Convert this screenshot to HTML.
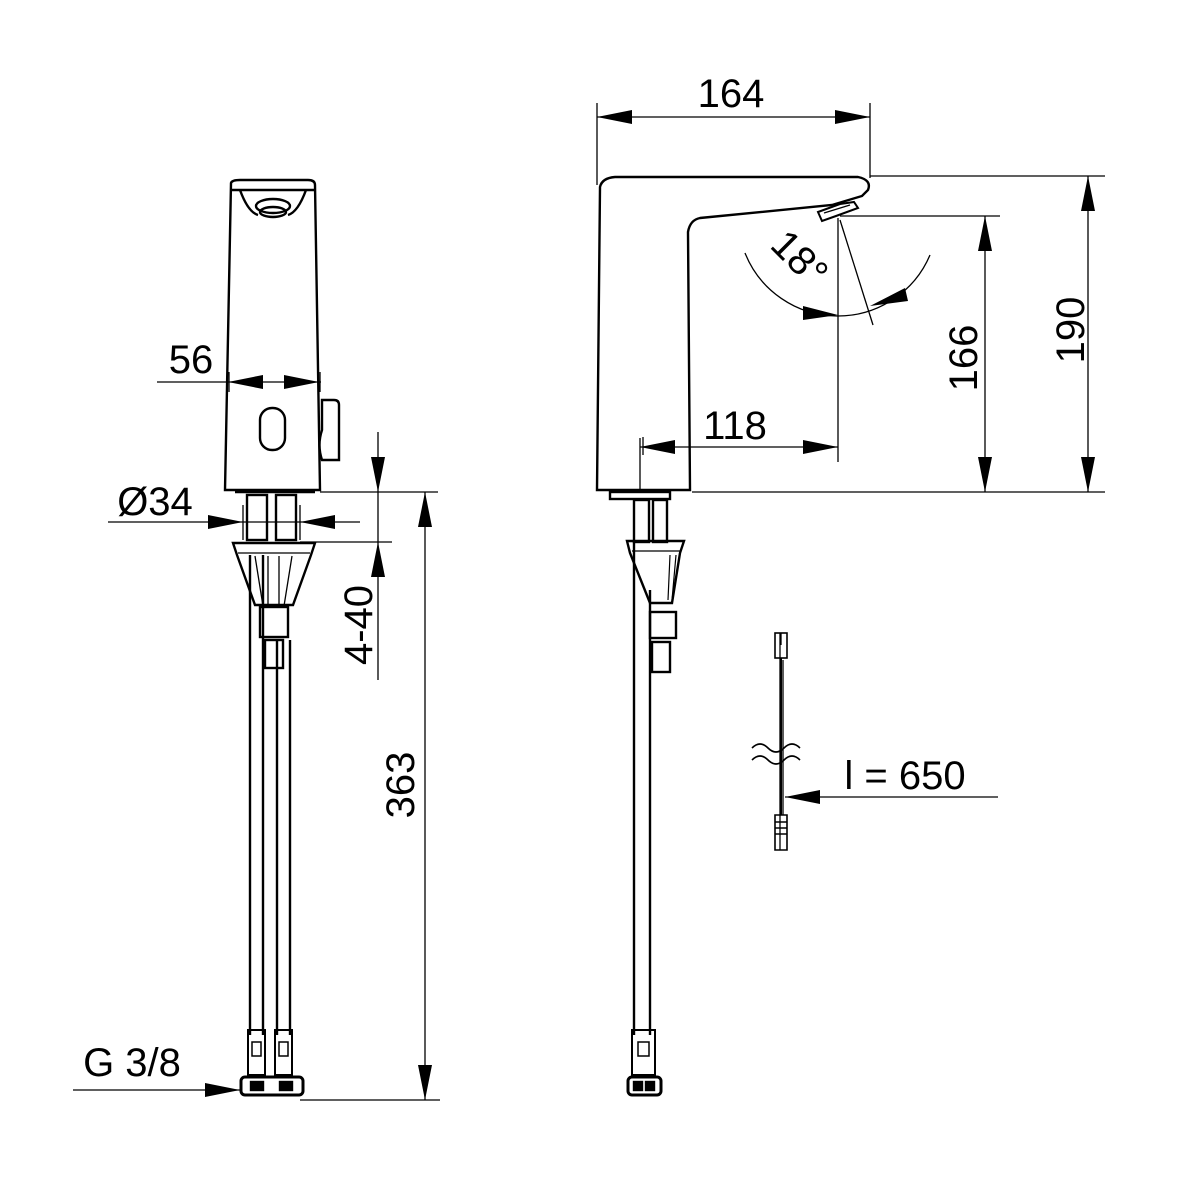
<!DOCTYPE html>
<html><head><meta charset="utf-8"><style>html,body{margin:0;padding:0;background:#fff}svg{display:block}</style></head>
<body>
<svg width="1200" height="1200" viewBox="0 0 1200 1200" xmlns="http://www.w3.org/2000/svg" font-family="Liberation Sans, sans-serif" font-size="40" fill="none" stroke="#000">
<g stroke-width="1.3">
<line x1="157" y1="382" x2="321" y2="382"/>
<path d="M228,382l35,-7v14z M319,382l-35,-7v14z" fill="#000" stroke="none"/>
<line x1="108" y1="522" x2="360" y2="522"/>
<path d="M243,522l-35,-7v14z M300,522l35,-7v14z" fill="#000" stroke="none"/>
<line x1="243" y1="505" x2="243" y2="540"/><line x1="300" y1="505" x2="300" y2="540"/>
<line x1="320" y1="492" x2="438" y2="492"/>
<line x1="300" y1="542" x2="392" y2="542"/>
<line x1="378" y1="432" x2="378" y2="680"/>
<path d="M378,492l-7,-35h14z M378,542l-7,35h14z" fill="#000" stroke="none"/>
<line x1="425" y1="492" x2="425" y2="1100"/>
<path d="M425,492l-7,35h14z M425,1100l-7,-35h14z" fill="#000" stroke="none"/>
<line x1="300" y1="1100" x2="440" y2="1100"/>
<line x1="73" y1="1090" x2="240" y2="1090"/>
<path d="M240,1090l-35,-7v14z" fill="#000" stroke="none"/>
</g>
<g fill="#000" stroke="none">
<text x="191" y="373" text-anchor="middle">56</text>
<text x="155" y="515" text-anchor="middle">Ø34</text>
<text transform="translate(372,625) rotate(-90)" text-anchor="middle">4-40</text>
<text transform="translate(414,785) rotate(-90)" text-anchor="middle">363</text>
<text x="132" y="1076" text-anchor="middle">G 3/8</text>
</g>
<g stroke-width="2.4">
<path d="M231,183 Q232,180 240,180 L308,180 Q315,180 315,185 L320,490 L225,490 Z"/>
<line x1="232" y1="190" x2="314" y2="190"/>
<path d="M240,190 Q248,212 258,215 M306,190 Q298,212 288,215"/>
<ellipse cx="273" cy="206" rx="17" ry="7"/>
<ellipse cx="273" cy="212" rx="13" ry="5"/>
<rect x="260" y="408" width="25" height="42" rx="12"/>
<path d="M322,400 h12 q5,0 5,5 v55 h-17 q-5,-15 0,-30z"/>
<line x1="229" y1="372" x2="229" y2="392" stroke-width="1.3"/>
<line x1="320" y1="372" x2="320" y2="392" stroke-width="1.3"/>
<path d="M235,492 h80"/>
<rect x="247" y="495" width="20" height="45"/>
<rect x="276" y="495" width="20" height="45"/>
<path d="M233,543 h82 l-4,12 l-18,50 h-38 l-18,-50z"/>
<line x1="238" y1="553" x2="310" y2="553" stroke-width="1.3"/>
<path d="M255,556 l8,50 M292,556 l-8,50 M268,556 v50 M279,556 v50" stroke-width="1.3"/>
<rect x="260" y="607" width="28" height="30"/>
<rect x="265" y="640" width="18" height="28"/>
<line x1="250" y1="555" x2="250" y2="1035"/>
<line x1="263" y1="555" x2="263" y2="1035"/>
<line x1="277" y1="640" x2="277" y2="1035"/>
<line x1="290" y1="640" x2="290" y2="1035"/>
<rect x="248" y="1030" width="17" height="45" stroke-width="2"/>
<rect x="275" y="1030" width="17" height="45" stroke-width="2"/>
<rect x="252" y="1042" width="9" height="14" stroke-width="1.5"/>
<rect x="279" y="1042" width="9" height="14" stroke-width="1.5"/>
<rect x="241" y="1077" width="62" height="18" rx="4" stroke-width="3"/>
<rect x="251" y="1082" width="12" height="8" fill="#000"/>
<rect x="280" y="1082" width="12" height="8" fill="#000"/>
</g>
<g stroke-width="1.3">
<line x1="597" y1="103" x2="597" y2="185"/>
<line x1="870" y1="103" x2="870" y2="178"/>
<line x1="597" y1="117" x2="870" y2="117"/>
<path d="M597,117l35,-7v14z M870,117l-35,-7v14z" fill="#000" stroke="none"/>
<line x1="870" y1="176" x2="1105" y2="176"/>
<line x1="840" y1="216" x2="1000" y2="216"/>
<line x1="692" y1="492" x2="1105" y2="492"/>
<line x1="1088" y1="176" x2="1088" y2="492"/>
<path d="M1088,176l-7,35h14z M1088,492l-7,-35h14z" fill="#000" stroke="none"/>
<line x1="985" y1="216" x2="985" y2="492"/>
<path d="M985,216l-7,35h14z M985,492l-7,-35h14z" fill="#000" stroke="none"/>
<line x1="838" y1="218" x2="838" y2="462"/>
<line x1="640" y1="438" x2="640" y2="492"/>
<line x1="640" y1="447" x2="838" y2="447"/>
<path d="M640,447l35,-7v14z M838,447l-35,-7v14z" fill="#000" stroke="none"/>
<path d="M745,253 A100,100 0 0 0 930,255"/>
<line x1="840" y1="220" x2="873" y2="325"/>
<path d="M838,315l-35,-9v14z M870,306l35,-18l3,13z" fill="#000" stroke="none"/>
<line x1="780" y1="633" x2="780" y2="850"/>
<line x1="783" y1="660" x2="783" y2="815"/>
<path d="M752,748 q8,-8 16,0 q8,8 16,0 q8,-8 16,0 M752,760 q8,-8 16,0 q8,8 16,0 q8,-8 16,0" stroke-width="1.6"/>
<line x1="785" y1="797" x2="998" y2="797"/>
<path d="M785,797l35,-7v14z" fill="#000" stroke="none"/>
</g>
<g fill="#000" stroke="none">
<text x="731" y="107" text-anchor="middle">164</text>
<text transform="translate(977,358) rotate(-90)" text-anchor="middle">166</text>
<text transform="translate(1084,330) rotate(-90)" text-anchor="middle">190</text>
<text x="735" y="439" text-anchor="middle">118</text>
<text transform="translate(790,268) rotate(45)" text-anchor="middle">18°</text>
<text x="905" y="789" text-anchor="middle">l = 650</text>
</g>
<g stroke-width="2.4">
<path d="M597,490 L600,187 Q602,178 615,177 L858,177 Q872,180 868,190 L862,196 L832,205 L700,218 Q690,220 688,232 L690,490 Z"/>
<path d="M818,212 l22,-8 l14,-2 l4,6 l-22,8 l-14,5z" stroke-width="2"/>
<line x1="824" y1="213" x2="850" y2="205" stroke-width="1.3"/>
<line x1="643" y1="437" x2="643" y2="455" stroke-width="1.3"/>
<rect x="610" y="492" width="60" height="7"/>
<rect x="634" y="500" width="15" height="42"/>
<rect x="653" y="500" width="14" height="42"/>
<path d="M627,541 h57 l-4,12 l-8,50 h-22 l-10,-25 l-10,-25z"/>
<line x1="632" y1="551" x2="680" y2="551" stroke-width="1.3"/>
<path d="M670,555 l-2,45 M676,555 l-4,45" stroke-width="1.2"/>
<rect x="650" y="612" width="26" height="26"/>
<rect x="652" y="642" width="18" height="30"/>
<line x1="634" y1="542" x2="634" y2="1035"/>
<line x1="650" y1="590" x2="650" y2="1035"/>
<rect x="632" y="1030" width="23" height="45" stroke-width="2"/>
<rect x="638" y="1042" width="11" height="14" stroke-width="1.5"/>
<rect x="628" y="1077" width="33" height="18" rx="4" stroke-width="3"/>
<rect x="634" y="1082" width="8" height="8" fill="#000"/>
<rect x="646" y="1082" width="8" height="8" fill="#000"/>
<rect x="775" y="633" width="12" height="25" stroke-width="1.6"/>
<line x1="781" y1="633" x2="781" y2="645" stroke-width="1.3"/>
<line x1="781" y1="658" x2="781" y2="815" stroke-width="2"/>
<path d="M775,815 h12 v35 h-12z" stroke-width="1.6"/>
<path d="M775,822 h12 M775,828 h12 M775,834 h12" stroke-width="1.5"/>
</g>
</svg>
</body></html>
